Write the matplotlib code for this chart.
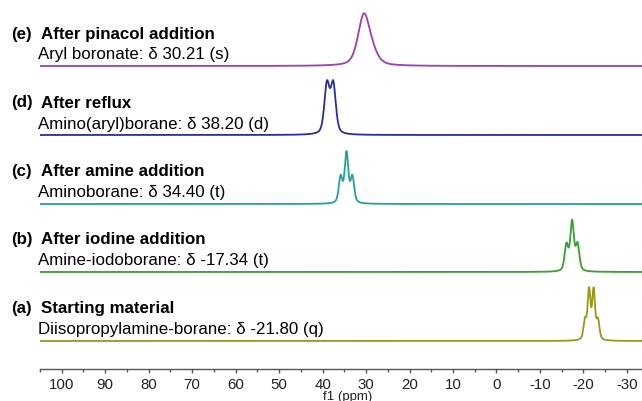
import numpy as np
import matplotlib.pyplot as plt
import matplotlib.transforms as mtransforms

plt.rcParams['font.family'] = ['Liberation Sans', 'DejaVu Sans']
plt.rcParams['axes.unicode_minus'] = False

# spectra, bottom (a) to top (e)
letters = ["(a)", "(b)", "(c)", "(d)", "(e)"]
titles = ["Starting material", "After iodine addition", "After amine addition",
          "After reflux", "After pinacol addition"]
subtitles = ["Diisopropylamine-borane: \u03b4 -21.80 (q)",
             "Amine-iodoborane: \u03b4 -17.34 (t)",
             "Aminoborane: \u03b4 34.40 (t)",
             "Amino(aryl)borane: \u03b4 38.20 (d)",
             "Aryl boronate: \u03b4 30.21 (s)"]
colors = ["#959a1c", "#35a035", "#26a09c", "#2c2ca0", "#a03cb4"]

# peak lists: shift (ppm), height, line width (ppm)
shifts = [[-20.35, -21.3, -22.35, -23.35],
          [-16.1, -17.4, -18.65],
          [35.85, 34.5, 33.15],
          [39.0, 37.55],
          [30.5, 28.4]]
heights = [[19, 49, 49, 19],
           [26, 49, 26],
           [26, 50, 26],
           [49, 49],
           [50, 8]]
widths = [0.8, 1.0, 1.0, 1.4, 3.2]

# vertical offset of each trace
offsets = [28, 97, 165, 234, 303]

ppm = np.linspace(106, -38, 6000)


def line_shape(x, c, h, w, eta=0.45):
    g = np.exp(-4 * np.log(2) * ((x - c) / w) ** 2)
    lor = 1 / (1 + (2 * (x - c) / w) ** 2)
    return h * (eta * lor + (1 - eta) * g)


fig = plt.figure(figsize=(6.42, 4.02), dpi=100)
ax = fig.add_axes([40 / 642, 32 / 402, 616 / 642, 370 / 402])

for i in range(len(letters)):
    trace = np.zeros_like(ppm)
    for c, h in zip(shifts[i], heights[i]):
        trace += line_shape(ppm, c, h, widths[i])
    ax.plot(ppm, trace + offsets[i], color=colors[i], lw=1.3)

ax.set_xlim(104.6, -36.7)
ax.set_ylim(0, 370)

trans = mtransforms.blended_transform_factory(fig.transFigure, ax.transData)
for i in range(len(letters)):
    ax.text(11 / 642, offsets[i] + 33, letters[i], transform=trans, fontsize=12.2,
            fontweight='bold', va='center', ha='left', clip_on=False)
    ax.text(41 / 642, offsets[i] + 33, titles[i], transform=trans, fontsize=12.2,
            fontweight='bold', va='center', ha='left', clip_on=False)
    ax.text(38 / 642, offsets[i] + 12, subtitles[i], transform=trans, fontsize=12.2,
            va='center', ha='left', clip_on=False)

for s in ['left', 'top', 'right']:
    ax.spines[s].set_visible(False)
ax.spines['bottom'].set_color('#555555')
ax.spines['bottom'].set_linewidth(1.0)
ax.set_yticks([])
ax.set_xticks(np.arange(100, -40, -10))
ax.set_xticks(np.arange(105, -40, -5), minor=True)
ax.tick_params(axis='x', which='major', direction='out', length=3, width=1,
               color='#555555', labelsize=10.8, pad=3, labelcolor='#222222')
ax.tick_params(axis='x', which='minor', direction='out', length=2, width=1,
               color='#555555')
ax.set_xlabel("f1 (ppm)", fontsize=9.5, color='#222222', labelpad=-1)

fig.savefig("out.png", dpi=100)
